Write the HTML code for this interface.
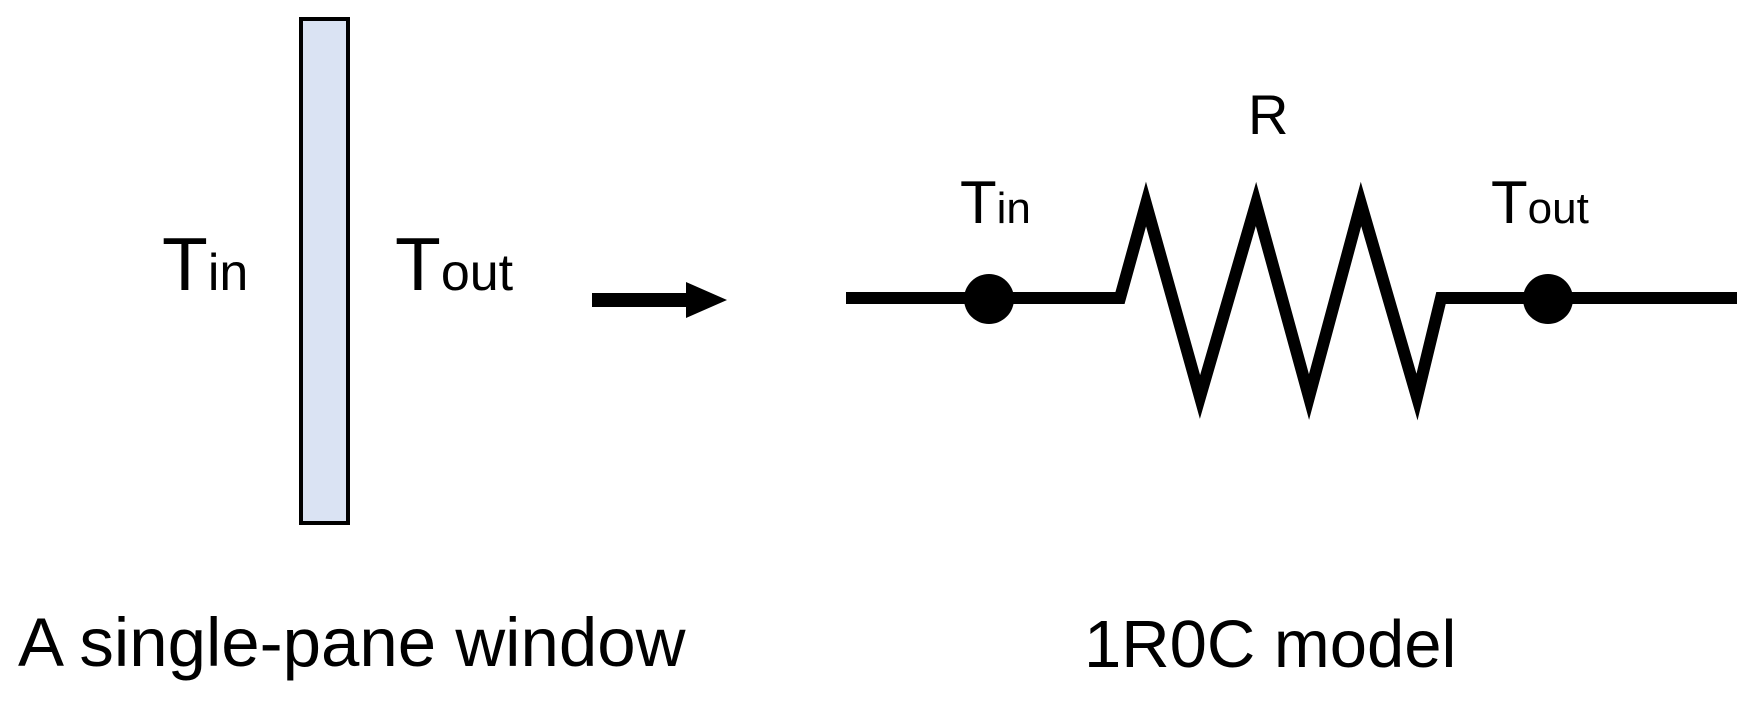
<!DOCTYPE html>
<html><head><meta charset="utf-8"><style>
html,body{margin:0;padding:0;background:#fff;}
svg{display:block;}
text{font-family:"Liberation Sans",sans-serif;fill:#000;}
</style></head><body>
<svg width="1746" height="701" viewBox="0 0 1746 701" xmlns="http://www.w3.org/2000/svg">
<rect x="301" y="19" width="47" height="504" fill="#dae3f3" stroke="#000" stroke-width="4"/>
<text x="162" y="290" font-size="75">T<tspan font-size="52">in</tspan></text>
<text x="395" y="290" font-size="75">T<tspan font-size="52">out</tspan></text>
<line x1="592" y1="300" x2="692" y2="300" stroke="#000" stroke-width="14"/>
<polygon points="686,282 727,300 686,318" fill="#000"/>
<polyline points="846,298 1120,298 1146,204 1200,397 1256,204 1309,397 1361,204 1417,397 1441,298 1737,298" fill="none" stroke="#000" stroke-width="12" stroke-linejoin="miter" stroke-miterlimit="30"/>
<circle cx="989" cy="299" r="25" fill="#000"/>
<circle cx="1548" cy="299" r="25" fill="#000"/>
<text x="1248" y="134" font-size="56">R</text>
<text x="960" y="223" font-size="60">T<tspan font-size="44">in</tspan></text>
<text x="1491" y="223" font-size="60">T<tspan font-size="44">out</tspan></text>
<text x="18" y="666" font-size="69">A single-pane window</text>
<text x="1084" y="667" font-size="67">1R0C model</text>
</svg>
</body></html>
